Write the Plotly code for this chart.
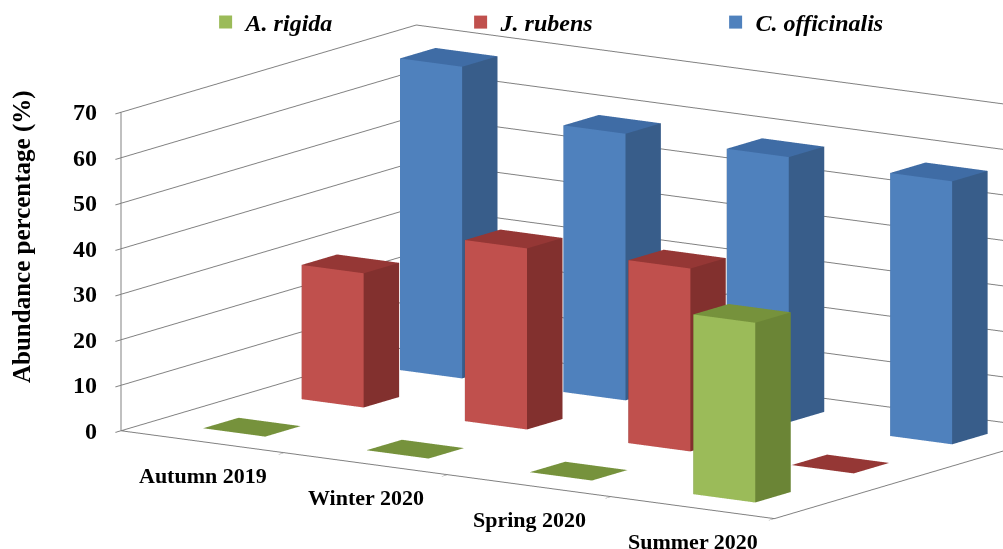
import math
import plotly.graph_objects as go

# Seasonal abundance (%) of three macroalgae species
seasons = ["Autumn 2019", "Winter 2020", "Spring 2020", "Summer 2020"]
species = ["A. rigida", "J. rubens", "C. officinalis"]
a_rigida = [0, 0, 0, 39.5]
j_rubens = [29.5, 39.8, 40.2, 0]
c_officinalis = [68.5, 58.6, 58.3, 57.8]
z_ticks = [0, 10, 20, 30, 40, 50, 60, 70]

values = [a_rigida, j_rubens, c_officinalis]

# face colours: front, side, top
palette = [
    ("#9BBB59", "#6B8536", "#76923C"),
    ("#C0504D", "#82302E", "#953735"),
    ("#4F81BD", "#385D8A", "#3F6CA5"),
]

HALF_W = 0.19   # half bar width along the season axis
HALF_D = 0.18   # half bar depth along the species axis

fig = go.Figure()


def add_bar(xc, yc, h, colors, name):
    front, side, top = colors
    x0, x1 = xc - HALF_W, xc + HALF_W
    y0, y1 = yc - HALF_D, yc + HALF_D
    xs = [x0, x1, x1, x0, x0, x1, x1, x0]
    ys = [y0, y0, y1, y1, y0, y0, y1, y1]
    zs = [0, 0, 0, 0, h, h, h, h]
    tris = [
        (0, 1, 2, top), (0, 2, 3, top),        # bottom
        (4, 5, 6, top), (4, 6, 7, top),        # top
        (0, 1, 5, front), (0, 5, 4, front),    # front
        (3, 2, 6, side), (3, 6, 7, side),      # back
        (0, 3, 7, side), (0, 7, 4, side),      # left
        (1, 2, 6, side), (1, 6, 5, side),      # right
    ]
    fig.add_trace(go.Mesh3d(
        x=xs, y=ys, z=zs,
        i=[t[0] for t in tris], j=[t[1] for t in tris], k=[t[2] for t in tris],
        facecolor=[t[3] for t in tris],
        flatshading=True,
        lighting=dict(ambient=1.0, diffuse=0.0, specular=0.0, fresnel=0.0, roughness=1.0),
        hoverinfo="skip", showlegend=False, name=name,
    ))


for s_idx, series in enumerate(values):
    for c_idx, v in enumerate(series):
        add_bar(c_idx, s_idx, v, palette[s_idx], species[s_idx])

# legend swatches
for s_idx, name in enumerate(species):
    fig.add_trace(go.Scatter(
        x=[None], y=[None], mode="markers", name=name,
        marker=dict(symbol="square", size=13, color=palette[s_idx][0]),
    ))

serif = "Liberation Serif"
grid = "#808080"

X_RANGE = [-0.5, 3.5]
Y_RANGE = [-0.5, 2.5]

# horizontal tick labels placed in data space
labels = []
for c_idx, name in enumerate(seasons):
    labels.append(dict(
        x=c_idx, y=Y_RANGE[0], z=0, text=name, showarrow=False,
        xanchor="center", yanchor="middle", yshift=-34,
        font=dict(family=serif, size=22, color="black", weight="bold"),
    ))
for v in z_ticks:
    labels.append(dict(
        x=X_RANGE[0], y=Y_RANGE[0], z=v, text=str(v), showarrow=False,
        xanchor="right", yanchor="middle", xshift=-22,
        font=dict(family=serif, size=24, color="black", weight="bold"),
    ))

# view: camera to the front-right, slightly above the floor
phi = math.radians(34)
eps = math.radians(11.5)
dist = 1.9
shift = 0.342
center = dict(x=-shift * math.cos(phi), y=-shift * math.sin(phi), z=-0.01)
eye = dict(x=dist * math.sin(phi) * math.cos(eps) + center["x"],
           y=-dist * math.cos(phi) * math.cos(eps) + center["y"],
           z=dist * math.sin(eps) + center["z"])

zoom = 1.85

fig.update_layout(
    width=1003, height=549,
    margin=dict(l=0, r=0, t=0, b=0),
    paper_bgcolor="white", plot_bgcolor="rgba(0,0,0,0)",
    xaxis=dict(visible=False), yaxis=dict(visible=False),
    scene=dict(
        domain=dict(x=[0, 1], y=[0, 1]),
        aspectmode="manual",
        aspectratio=dict(x=1.552 * zoom, y=1.04 * zoom, z=0.64 * zoom),
        camera=dict(eye=eye, center=center,
                    up=dict(x=0, y=0, z=1),
                    projection=dict(type="orthographic")),
        annotations=labels,
        xaxis=dict(
            range=X_RANGE, tickvals=[-0.5, 0.5, 1.5, 2.5, 3.5],
            showticklabels=False,
            showgrid=False, zeroline=False, showbackground=False,
            showline=True, linecolor=grid, linewidth=2,
            ticks="outside", ticklen=6, tickcolor=grid, tickwidth=2,
            title=dict(text=""), showspikes=False,
        ),
        yaxis=dict(
            range=Y_RANGE, showticklabels=False,
            showgrid=False, zeroline=False, showbackground=False,
            showline=True, linecolor=grid, linewidth=2, ticks="",
            title=dict(text=""), showspikes=False,
        ),
        zaxis=dict(
            range=[0, 70], tickvals=z_ticks, showticklabels=False,
            showgrid=True, gridcolor=grid, gridwidth=2,
            zeroline=False, showbackground=False,
            showline=True, linecolor=grid, linewidth=2,
            ticks="outside", ticklen=6, tickcolor=grid, tickwidth=2,
            title=dict(text=""), showspikes=False,
        ),
    ),
    legend=dict(
        orientation="h", x=0.205, xanchor="left", y=1.0, yanchor="top",
        entrywidth=210, entrywidthmode="pixels",
        font=dict(family=serif, size=24, color="black", weight="bold", style="italic"),
        itemwidth=30, bgcolor="rgba(0,0,0,0)",
    ),
    annotations=[dict(
        text="Abundance percentage (%)", textangle=-90,
        x=22 / 1003, y=1 - 237 / 549, xref="paper", yref="paper", showarrow=False,
        xanchor="center", yanchor="middle",
        font=dict(family=serif, size=25, color="black", weight="bold"),
    )],
)

fig.write_html("out.html")
